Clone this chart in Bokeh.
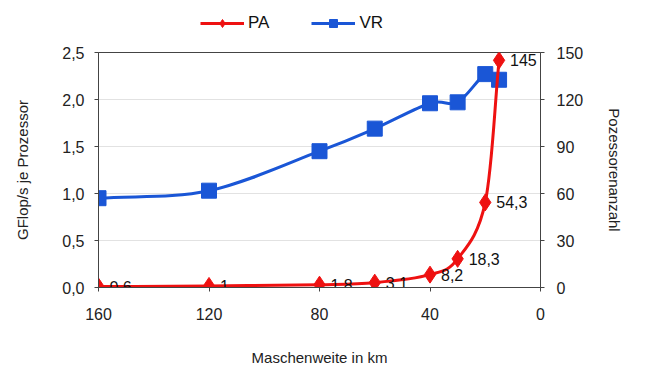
from bokeh.plotting import figure
from bokeh.layouts import column
from bokeh.models import (Range1d, LinearAxis, FixedTicker, ColumnDataSource,
                          Legend, LegendItem)
from bokeh.embed import file_html
from bokeh.resources import INLINE

# Mesh width (km) and the two series
mesh_km = [160, 120, 80, 60, 40, 30, 20, 15]
pa_count = [0.6, 1, 1.8, 3.1, 8.2, 18.3, 54.3, 145]          # processors (right axis)
vr_gflops = [0.95, 1.03, 1.45, 1.69, 1.96, 1.97, 2.27, 2.21]  # GFlop/s per processor (left axis)
pa_labels = ["0,6", "1", "1,8", "3,1", "8,2", "18,3", "54,3", "145"]
series_names = ["PA", "VR"]

left_ticks = [0, 0.5, 1.0, 1.5, 2.0, 2.5]
left_tick_labels = ["0,0", "0,5", "1,0", "1,5", "2,0", "2,5"]
right_ticks = [0, 30, 60, 90, 120, 150]
x_ticks = [160, 120, 80, 40, 0]

FONT = "Liberation Sans"
RED = "#ee1111"
BLUE = "#1a56d6"
NAN = float("nan")


def smooth_segments(xs, ys):
    """Catmull-Rom style cubic Bezier segments through the points."""
    n = len(xs)
    tx, ty = [], []
    for i in range(n):
        a = max(i - 1, 0)
        b = min(i + 1, n - 1)
        f = 0.5 if (i > 0 and i < n - 1) else 1.0
        tx.append((xs[b] - xs[a]) * f)
        ty.append((ys[b] - ys[a]) * f)
    d = dict(x0=[], y0=[], x1=[], y1=[], cx0=[], cy0=[], cx1=[], cy1=[])
    for i in range(n - 1):
        d["x0"].append(xs[i]); d["y0"].append(ys[i])
        d["x1"].append(xs[i + 1]); d["y1"].append(ys[i + 1])
        d["cx0"].append(xs[i] + tx[i] / 3); d["cy0"].append(ys[i] + ty[i] / 3)
        d["cx1"].append(xs[i + 1] - tx[i + 1] / 3); d["cy1"].append(ys[i + 1] - ty[i + 1] / 3)
    return ColumnDataSource(d)


# ---- main chart ----
p = figure(width=654, height=327, output_backend="svg", toolbar_location=None,
           x_range=Range1d(160, 0), y_range=Range1d(0, 2.5),
           frame_width=442, frame_height=235,
           min_border_left=98, min_border_right=114,
           min_border_top=12, min_border_bottom=80)
p.extra_y_ranges = {"right": Range1d(0, 150)}
p.background_fill_color = "white"
p.border_fill_color = "white"
p.outline_line_color = "#444444"
p.outline_line_width = 1

p.xgrid.visible = False
p.ygrid.grid_line_color = "#e2e2e2"
p.ygrid.ticker = FixedTicker(ticks=left_ticks)

# x axis
p.xaxis.ticker = FixedTicker(ticks=x_ticks)
p.xaxis.axis_label = "Maschenweite in km"
# left axis
p.yaxis.ticker = FixedTicker(ticks=left_ticks)
p.yaxis.major_label_overrides = {t: s for t, s in zip(left_ticks, left_tick_labels)}
p.yaxis.axis_label = "GFlop/s je Prozessor"
# right axis
ax_r = LinearAxis(y_range_name="right", ticker=FixedTicker(ticks=right_ticks),
                  axis_label="Pozessorenanzahl")
p.add_layout(ax_r, "right")

for ax in [p.xaxis[0], p.yaxis[0], ax_r]:
    ax.axis_line_color = "#444444"
    ax.major_tick_line_color = "#444444"
    ax.major_tick_out = 4
    ax.major_tick_in = 0
    ax.minor_tick_line_color = None
    ax.major_label_text_font = FONT
    ax.major_label_text_font_size = "16px"
    ax.major_label_text_color = "#222222"
    ax.axis_label_text_font = FONT
    ax.axis_label_text_font_size = "15px"
    ax.axis_label_text_font_style = "normal"
    ax.axis_label_text_color = "#222222"
p.xaxis.major_label_standoff = 16
p.xaxis.axis_label_standoff = 26
p.yaxis.major_label_standoff = 10
p.yaxis.axis_label_standoff = 28
ax_r.major_label_standoff = 12
ax_r.axis_label_standoff = 20

# VR series (left axis)
p.bezier(x0="x0", y0="y0", x1="x1", y1="y1", cx0="cx0", cy0="cy0",
         cx1="cx1", cy1="cy1", source=smooth_segments(mesh_km, vr_gflops),
         line_color=BLUE, line_width=3)
p.scatter(mesh_km, vr_gflops, marker="square", size=15,
          fill_color=BLUE, line_color=BLUE)

# PA series (right axis)
p.bezier(x0="x0", y0="y0", x1="x1", y1="y1", cx0="cx0", cy0="cy0",
         cx1="cx1", cy1="cy1", source=smooth_segments(mesh_km, pa_count),
         line_color=RED, line_width=3, y_range_name="right")
p.scatter(mesh_km, pa_count, marker="diamond", size=17,
          fill_color=RED, line_color=RED, y_range_name="right")

lbl_src = ColumnDataSource(dict(x=mesh_km, y=pa_count, t=pa_labels))
p.text(x="x", y="y", text="t", source=lbl_src, y_range_name="right",
       x_offset=11, y_offset=0, text_align="left", text_baseline="middle",
       text_font={"value": FONT}, text_font_size="16px", text_color="#111111")

# ---- legend strip above the chart (its frame is aligned with the chart's) ----
lg = figure(width=654, height=40, output_backend="svg", toolbar_location=None,
            x_axis_type=None, y_axis_type=None,
            x_range=Range1d(0, 1), y_range=Range1d(0, 1),
            min_border=0, outline_line_color=None)
lg.grid.visible = False
styles = [(RED, "diamond", 17), (BLUE, "square", 15)]
items = []
for name, (col, mk, sz) in zip(series_names, styles):
    swatch = ColumnDataSource(dict(x=[NAN], y=[NAN]))
    ln = lg.line(x="x", y="y", source=swatch, line_color=col, line_width=3)
    sc = lg.scatter(x="x", y="y", source=swatch, marker=mk, size=sz,
                    fill_color=col, line_color=col)
    items.append(LegendItem(label=name, renderers=[ln, sc]))
legend = Legend(items=items, orientation="horizontal", location=(102, 7),
                glyph_width=44, glyph_height=20, label_standoff=4, spacing=42,
                padding=0, margin=0, border_line_alpha=0, background_fill_alpha=0,
                label_text_font=FONT, label_text_font_size="17px",
                label_text_color="#111111")
lg.add_layout(legend, "center")

layout = column(lg, p, spacing=0)
open("out.html", "w").write(file_html(layout, INLINE))
